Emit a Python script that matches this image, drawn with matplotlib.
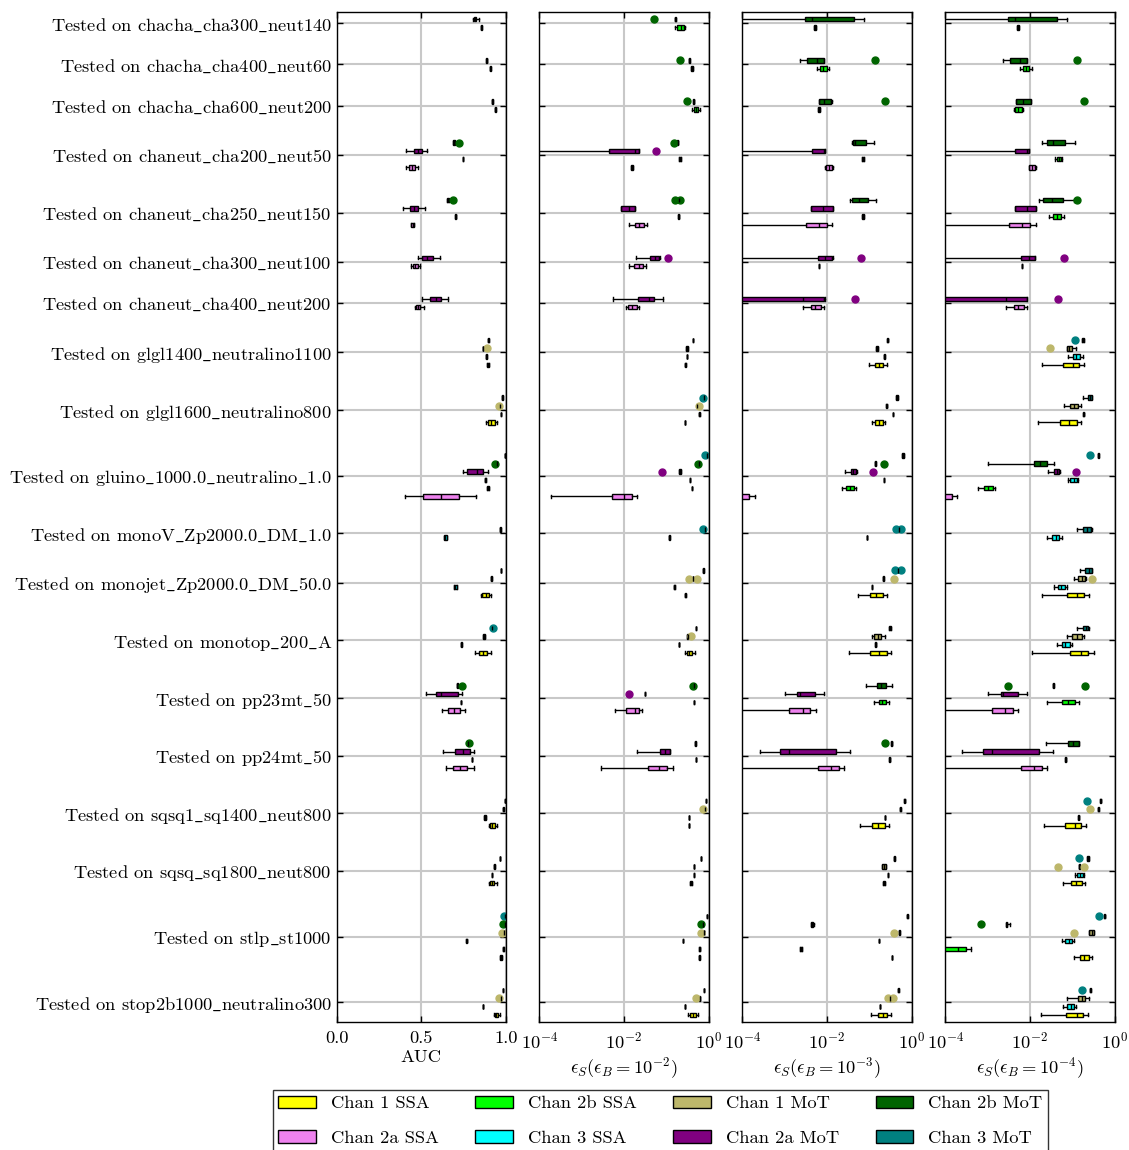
import matplotlib
matplotlib.use("Agg")
import matplotlib.pyplot as plt
from matplotlib.patches import Patch
from matplotlib.ticker import NullLocator, FixedLocator, LogFormatterMathtext

plt.rcParams['font.family'] = ['cmr10', 'DejaVu Serif']
plt.rcParams['mathtext.fontset'] = 'cm'
plt.rcParams['axes.formatter.use_mathtext'] = True
plt.rcParams['axes.unicode_minus'] = False

# ---------------- data ----------------
categories = [
    'chacha_cha300_neut140', 'chacha_cha400_neut60', 'chacha_cha600_neut200',
    'chaneut_cha200_neut50', 'chaneut_cha250_neut150', 'chaneut_cha300_neut100',
    'chaneut_cha400_neut200', 'glgl1400_neutralino1100', 'glgl1600_neutralino800',
    'gluino_1000.0_neutralino_1.0', 'monoV_Zp2000.0_DM_1.0', 'monojet_Zp2000.0_DM_50.0',
    'monotop_200_A', 'pp23mt_50', 'pp24mt_50', 'sqsq1_sq1400_neut800',
    'sqsq_sq1800_neut800', 'stlp_st1000', 'stop2b1000_neutralino300']

grp_A = ['2b MoT', '2b SSA']
grp_B = ['2b MoT', '2a MoT', '2b SSA', '2a SSA']
grp_C = ['2a MoT', '2a SSA']
grp_D = ['3 MoT', '1 MoT', '3 SSA', '1 SSA']
grp_E = ['3 MoT', '2b MoT', '2a MoT', '3 SSA', '2b SSA', '2a SSA']
grp_F = ['3 MoT', '3 SSA']
grp_G = ['3 MoT', '2b MoT', '1 MoT', '3 SSA', '2b SSA', '1 SSA']
models_per_category = [grp_A, grp_A, grp_A, grp_B, grp_B, grp_C, grp_C, grp_D, grp_D,
                       grp_E, grp_F, grp_D, grp_D, grp_B, grp_B, grp_D, grp_D, grp_G, grp_D]

legend_labels = ['Chan 1 SSA', 'Chan 2a SSA', 'Chan 2b SSA', 'Chan 3 SSA',
                 'Chan 1 MoT', 'Chan 2a MoT', 'Chan 2b MoT', 'Chan 3 MoT']
legend_colors = ['#ffff00', '#ee82ee', '#00ff00', '#00ffff',
                 '#bdb76b', '#800080', '#006400', '#008080']

# each entry: (whisker low, q1, median, q3, whisker high, [fliers])
auc = [
    (0.805, 0.81, 0.815, 0.822, 0.84, []), (0.852, 0.852, 0.854, 0.856, 0.856, []),
    (0.884, 0.884, 0.886, 0.889, 0.889, []), (0.905, 0.905, 0.907, 0.909, 0.909, []),
    (0.917, 0.917, 0.919, 0.921, 0.921, []), (0.935, 0.935, 0.937, 0.94, 0.94, []),
    (0.688, 0.688, 0.694, 0.7, 0.7, [0.722]), (0.412, 0.454, 0.477, 0.501, 0.533, []),
    (0.744, 0.744, 0.746, 0.748, 0.748, []), (0.412, 0.426, 0.442, 0.46, 0.477, []),
    (0.652, 0.652, 0.657, 0.662, 0.662, [0.686]), (0.394, 0.43, 0.454, 0.479, 0.519, []),
    (0.7, 0.7, 0.702, 0.704, 0.704, []), (0.44, 0.44, 0.448, 0.456, 0.456, []),
    (0.481, 0.505, 0.533, 0.568, 0.611, []), (0.438, 0.45, 0.465, 0.48, 0.491, []),
    (0.501, 0.548, 0.584, 0.613, 0.659, []), (0.462, 0.47, 0.48, 0.49, 0.517, []),
    (0.893, 0.893, 0.895, 0.898, 0.898, []), (0.862, 0.862, 0.864, 0.866, 0.866, [0.888]),
    (0.883, 0.883, 0.884, 0.885, 0.885, []), (0.888, 0.888, 0.893, 0.898, 0.898, []),
    (0.977, 0.977, 0.978, 0.979, 0.979, []), (0.965, 0.965, 0.966, 0.967, 0.967, [0.958]),
    (0.969, 0.969, 0.97, 0.971, 0.971, []), (0.882, 0.893, 0.913, 0.935, 0.947, []),
    (0.991, 0.991, 0.992, 0.993, 0.993, []), (0.944, 0.944, 0.946, 0.948, 0.948, [0.936]),
    (0.746, 0.769, 0.828, 0.862, 0.892, []), (0.877, 0.877, 0.878, 0.879, 0.879, []),
    (0.889, 0.889, 0.893, 0.897, 0.897, []), (0.406, 0.511, 0.615, 0.72, 0.824, []),
    (0.965, 0.965, 0.966, 0.967, 0.967, []), (0.633, 0.633, 0.641, 0.649, 0.649, []),
    (0.967, 0.967, 0.968, 0.969, 0.969, []), (0.911, 0.911, 0.913, 0.915, 0.915, []),
    (0.692, 0.692, 0.7, 0.708, 0.708, []), (0.85, 0.86, 0.88, 0.899, 0.909, []),
    (0.914, 0.914, 0.916, 0.918, 0.918, [0.922]), (0.866, 0.866, 0.872, 0.878, 0.878, []),
    (0.735, 0.735, 0.736, 0.737, 0.737, []), (0.815, 0.838, 0.862, 0.888, 0.911, []),
    (0.71, 0.71, 0.712, 0.714, 0.714, [0.74]), (0.527, 0.588, 0.617, 0.718, 0.742, []),
    (0.731, 0.731, 0.732, 0.733, 0.733, []), (0.621, 0.655, 0.69, 0.726, 0.759, []),
    (0.775, 0.775, 0.777, 0.779, 0.779, [0.783]), (0.625, 0.696, 0.748, 0.789, 0.809, []),
    (0.796, 0.796, 0.797, 0.798, 0.798, []), (0.643, 0.686, 0.73, 0.769, 0.81, []),
    (0.991, 0.991, 0.992, 0.993, 0.993, []), (0.983, 0.983, 0.984, 0.985, 0.985, []),
    (0.87, 0.87, 0.876, 0.882, 0.882, []), (0.897, 0.907, 0.917, 0.937, 0.947, []),
    (0.963, 0.963, 0.964, 0.965, 0.965, []), (0.93, 0.93, 0.931, 0.932, 0.932, []),
    (0.914, 0.914, 0.915, 0.916, 0.916, []), (0.897, 0.905, 0.919, 0.93, 0.947, []),
    (0.994, 0.994, 0.995, 0.996, 0.996, [0.988]), (0.994, 0.994, 0.995, 0.996, 0.996, [0.982]),
    (0.987, 0.987, 0.988, 0.989, 0.989, [0.978]), (0.766, 0.766, 0.767, 0.768, 0.768, []),
    (0.983, 0.983, 0.984, 0.985, 0.985, []), (0.965, 0.965, 0.97, 0.975, 0.975, []),
    (0.979, 0.979, 0.98, 0.981, 0.981, []), (0.969, 0.969, 0.97, 0.971, 0.971, [0.96]),
    (0.861, 0.861, 0.862, 0.863, 0.863, []), (0.927, 0.933, 0.94, 0.955, 0.965, []),
]

eff_1e2 = [
    (0.158, 0.158, 0.164, 0.17, 0.17, [0.0515]), (0.158, 0.183, 0.219, 0.258, 0.283, []),
    (0.345, 0.345, 0.352, 0.359, 0.359, [0.212]), (0.39, 0.39, 0.407, 0.425, 0.425, []),
    (0.435, 0.435, 0.445, 0.455, 0.455, [0.31]), (0.413, 0.445, 0.505, 0.573, 0.615, []),
    (0.18, 0.18, 0.186, 0.192, 0.192, [0.15]), (1e-7, 0.0044, 0.018, 0.022, 0.023, [0.0575]),
    (0.2, 0.2, 0.208, 0.216, 0.216, []), (0.0148, 0.0148, 0.0156, 0.0164, 0.0164, []),
    (0.195, 0.195, 0.197, 0.199, 0.199, [0.16, 0.21]), (0.0086, 0.0086, 0.0133, 0.0184, 0.0184, []),
    (0.19, 0.19, 0.197, 0.204, 0.204, []), (0.013, 0.0184, 0.0232, 0.0299, 0.0352, []),
    (0.0187, 0.0407, 0.0535, 0.0676, 0.07, [0.11]), (0.0128, 0.0174, 0.022, 0.0284, 0.0328, []),
    (0.0054, 0.0216, 0.038, 0.0498, 0.0826, []), (0.0109, 0.0123, 0.0156, 0.0198, 0.0229, []),
    (0.425, 0.425, 0.428, 0.431, 0.431, []), (0.29, 0.29, 0.304, 0.318, 0.318, []),
    (0.307, 0.307, 0.309, 0.311, 0.311, []), (0.278, 0.278, 0.283, 0.288, 0.288, []),
    (0.76, 0.76, 0.766, 0.772, 0.772, [0.724]), (0.538, 0.538, 0.542, 0.546, 0.546, [0.58]),
    (0.6, 0.6, 0.605, 0.61, 0.61, []), (0.27, 0.27, 0.272, 0.274, 0.274, []),
    (0.88, 0.88, 0.89, 0.9, 0.9, [0.81]), (0.6, 0.6, 0.605, 0.61, 0.61, [0.573]),
    (0.2, 0.2, 0.212, 0.224, 0.224, [0.081]), (0.355, 0.355, 0.357, 0.359, 0.359, []),
    (0.396, 0.396, 0.398, 0.4, 0.4, []), (0.00019, 0.0052, 0.0101, 0.0153, 0.0205, []),
    (0.79, 0.79, 0.8, 0.81, 0.81, [0.751]), (0.118, 0.118, 0.1185, 0.119, 0.119, []),
    (0.748, 0.748, 0.751, 0.754, 0.754, []), (0.425, 0.425, 0.428, 0.431, 0.431, [0.345, 0.542]),
    (0.154, 0.154, 0.155, 0.156, 0.156, []), (0.27, 0.27, 0.283, 0.296, 0.296, []),
    (0.494, 0.494, 0.496, 0.498, 0.498, []), (0.31, 0.31, 0.316, 0.322, 0.322, [0.392]),
    (0.196, 0.196, 0.197, 0.198, 0.198, []), (0.27, 0.31, 0.352, 0.407, 0.48, []),
    (0.44, 0.44, 0.445, 0.45, 0.45, [0.42]), (0.0305, 0.0305, 0.031, 0.0315, 0.0315, [0.013]),
    (0.443, 0.443, 0.445, 0.447, 0.447, []), (0.0061, 0.0113, 0.018, 0.022, 0.0269, []),
    (0.484, 0.484, 0.486, 0.488, 0.488, []), (0.0208, 0.07, 0.092, 0.1208, 0.1208, []),
    (0.503, 0.503, 0.505, 0.507, 0.507, []), (0.0028, 0.0359, 0.0664, 0.1064, 0.142, []),
    (0.866, 0.866, 0.87, 0.874, 0.874, []), (0.79, 0.79, 0.8, 0.81, 0.81, [0.75]),
    (0.343, 0.343, 0.345, 0.347, 0.347, []), (0.337, 0.337, 0.339, 0.341, 0.341, []),
    (0.647, 0.647, 0.65, 0.653, 0.653, []), (0.443, 0.443, 0.445, 0.447, 0.447, []),
    (0.443, 0.443, 0.445, 0.447, 0.447, []), (0.37, 0.37, 0.392, 0.414, 0.414, []),
    (0.93, 0.93, 0.933, 0.936, 0.936, []), (0.73, 0.73, 0.738, 0.746, 0.746, [0.662]),
    (0.76, 0.76, 0.77, 0.78, 0.78, [0.662]), (0.247, 0.247, 0.249, 0.251, 0.251, []),
    (0.6, 0.6, 0.615, 0.63, 0.63, []), (0.59, 0.59, 0.605, 0.62, 0.62, []),
    (0.762, 0.762, 0.766, 0.77, 0.77, []), (0.6, 0.6, 0.615, 0.63, 0.63, [0.505]),
    (0.27, 0.27, 0.272, 0.274, 0.274, []), (0.316, 0.364, 0.436, 0.514, 0.565, []),
]

eff_1e3 = [
    (1e-7, 0.00296, 0.00451, 0.0427, 0.0748, []), (0.0049, 0.0049, 0.0052, 0.0055, 0.0055, []),
    (0.00234, 0.00343, 0.0059, 0.0083, 0.0083, [0.134]), (0.0058, 0.007, 0.008, 0.0098, 0.011, []),
    (0.0065, 0.0065, 0.0087, 0.0124, 0.0131, [0.239]), (0.0062, 0.0062, 0.0066, 0.007, 0.007, []),
    (0.038, 0.0419, 0.0458, 0.0834, 0.129, []), (1e-7, 0.0044, 0.0083, 0.0091, 0.0091, []),
    (0.068, 0.068, 0.0708, 0.073, 0.073, []), (0.0091, 0.0096, 0.0111, 0.0128, 0.0136, []),
    (0.034, 0.039, 0.057, 0.0913, 0.1435, []), (0.00427, 0.00427, 0.0082, 0.0136, 0.0136, []),
    (0.068, 0.068, 0.0708, 0.073, 0.073, []), (1e-7, 0.00325, 0.0065, 0.0102, 0.0134, []),
    (1e-7, 0.0062, 0.009, 0.0129, 0.0135, [0.0636]), (0.0064, 0.0064, 0.0065, 0.0066, 0.0066, []),
    (1e-7, 1e-5, 0.00276, 0.0085, 0.0089, [0.0467]), (0.0027, 0.0041, 0.0052, 0.0071, 0.0087, []),
    (0.26, 0.26, 0.271, 0.282, 0.282, []), (0.142, 0.142, 0.149, 0.156, 0.156, []),
    (0.224, 0.224, 0.226, 0.228, 0.228, []), (0.0964, 0.134, 0.166, 0.21, 0.256, []),
    (0.43, 0.43, 0.45, 0.47, 0.47, []), (0.25, 0.25, 0.256, 0.262, 0.262, []),
    (0.354, 0.354, 0.356, 0.358, 0.358, []), (0.113, 0.136, 0.166, 0.21, 0.239, []),
    (0.6, 0.6, 0.624, 0.65, 0.65, []), (0.133, 0.133, 0.139, 0.145, 0.145, [0.222]),
    (0.0266, 0.0362, 0.0419, 0.0484, 0.05, [0.124]), (0.217, 0.217, 0.218, 0.219, 0.219, []),
    (0.0222, 0.0281, 0.0343, 0.0426, 0.0493, []), (1e-7, 1e-5, 7e-5, 0.000144, 0.0002, []),
    (0.485, 0.485, 0.493, 0.5, 0.5, [0.427, 0.57]), (0.0875, 0.0875, 0.088, 0.0885, 0.0885, []),
    (0.47, 0.47, 0.475, 0.48, 0.48, [0.411, 0.55]), (0.205, 0.205, 0.214, 0.223, 0.223, [0.39]),
    (0.115, 0.115, 0.1156, 0.1162, 0.1162, []), (0.055, 0.1037, 0.1435, 0.2065, 0.266, []),
    (0.295, 0.295, 0.307, 0.32, 0.32, []), (0.1135, 0.131, 0.157, 0.189, 0.23, []),
    (0.135, 0.135, 0.141, 0.147, 0.147, []), (0.0337, 0.1037, 0.169, 0.256, 0.331, []),
    (0.0834, 0.1545, 0.185, 0.247, 0.343, []), (0.00102, 0.002, 0.0023, 0.0053, 0.0087, []),
    (0.1265, 0.169, 0.199, 0.252, 0.292, []), (1e-7, 0.00126, 0.00266, 0.004, 0.0054, []),
    (0.33, 0.33, 0.337, 0.344, 0.344, [0.234]), (0.000256, 0.00079, 0.00129, 0.0163, 0.0349, []),
    (0.296, 0.296, 0.302, 0.308, 0.308, []), (1e-7, 0.0062, 0.0122, 0.0195, 0.0256, []),
    (0.665, 0.665, 0.684, 0.703, 0.703, []), (0.525, 0.525, 0.54, 0.555, 0.555, []),
    (0.238, 0.238, 0.239, 0.24, 0.24, []), (0.0603, 0.1156, 0.163, 0.23, 0.292, []),
    (0.375, 0.375, 0.39, 0.405, 0.405, []), (0.195, 0.195, 0.22, 0.243, 0.243, []),
    (0.279, 0.279, 0.281, 0.283, 0.283, []), (0.215, 0.215, 0.222, 0.229, 0.229, []),
    (0.77, 0.77, 0.79, 0.81, 0.81, []), (0.0042, 0.0042, 0.0044, 0.0046, 0.0048, []),
    (0.5, 0.5, 0.512, 0.524, 0.524, [0.376]), (0.165, 0.165, 0.166, 0.167, 0.167, []),
    (0.00232, 0.00232, 0.00243, 0.00254, 0.00254, []), (0.347, 0.347, 0.349, 0.351, 0.351, []),
    (0.47, 0.47, 0.484, 0.498, 0.498, []), (0.29, 0.29, 0.31, 0.33, 0.33, [0.27, 0.37]),
    (0.174, 0.174, 0.175, 0.176, 0.176, []), (0.107, 0.16, 0.214, 0.266, 0.331, []),
]

eff_1e4 = [
    (1e-7, 0.00296, 0.0045, 0.0427, 0.0748, []), (0.0049, 0.0049, 0.0052, 0.0055, 0.0055, []),
    (0.0023, 0.0034, 0.0059, 0.0085, 0.0085, [0.131]), (0.0058, 0.0068, 0.0082, 0.0096, 0.011, []),
    (0.00475, 0.00475, 0.007, 0.0104, 0.0104, [0.185]), (0.0041, 0.0045, 0.0053, 0.0064, 0.0068, []),
    (0.0189, 0.0252, 0.0343, 0.0671, 0.1156, []), (1e-7, 0.0044, 0.0087, 0.0093, 0.0093, []),
    (0.0384, 0.0426, 0.0475, 0.053, 0.058, []), (0.0093, 0.0096, 0.0111, 0.0129, 0.0135, []),
    (0.0163, 0.0207, 0.0337, 0.0613, 0.111, [0.126]), (0.00434, 0.00434, 0.0086, 0.0136, 0.0136, []),
    (0.0286, 0.0356, 0.0427, 0.053, 0.0624, []), (1e-7, 0.00325, 0.0066, 0.01, 0.0136, []),
    (1e-7, 0.0062, 0.0093, 0.0134, 0.0134, [0.0635]), (0.0064, 0.0064, 0.0065, 0.0066, 0.0066, []),
    (1e-7, 1e-5, 0.00276, 0.0086, 0.0086, [0.0467]), (0.0027, 0.0041, 0.0052, 0.0071, 0.0086, []),
    (0.172, 0.172, 0.179, 0.186, 0.186, [0.1135]), (0.0748, 0.0748, 0.085, 0.096, 0.124, [0.0297]),
    (0.0776, 0.102, 0.122, 0.152, 0.182, []), (0.0195, 0.059, 0.102, 0.1435, 0.185, []),
    (0.175, 0.23, 0.261, 0.296, 0.298, []), (0.0624, 0.088, 0.109, 0.1386, 0.163, []),
    (0.178, 0.178, 0.185, 0.192, 0.192, []), (0.0152, 0.0502, 0.085, 0.1265, 0.163, []),
    (0.4, 0.4, 0.41, 0.42, 0.42, [0.256]), (0.001, 0.0126, 0.0172, 0.0257, 0.0376, []),
    (0.026, 0.036, 0.0427, 0.0493, 0.05, [0.122]), (0.0776, 0.088, 0.107, 0.131, 0.133, []),
    (0.00058, 0.0008, 0.00104, 0.00131, 0.00152, []), (1e-7, 1e-5, 7e-5, 0.000146, 0.00019, []),
    (0.126, 0.175, 0.218, 0.271, 0.296, []), (0.0252, 0.0331, 0.0404, 0.0493, 0.058, []),
    (0.149, 0.2026, 0.243, 0.292, 0.295, []), (0.1073, 0.1387, 0.166, 0.203, 0.206, [0.292]),
    (0.0369, 0.045, 0.055, 0.067, 0.076, []), (0.0195, 0.0748, 0.1265, 0.189, 0.248, []),
    (0.131, 0.182, 0.206, 0.239, 0.241, []), (0.0748, 0.1, 0.1265, 0.166, 0.189, []),
    (0.0427, 0.056, 0.068, 0.0866, 0.1, []), (0.0111, 0.0866, 0.16, 0.239, 0.325, []),
    (0.0345, 0.0345, 0.0356, 0.0367, 0.0367, [0.00296, 0.199]), (0.00102, 0.00203, 0.00234, 0.0052, 0.0087, []),
    (0.0257, 0.056, 0.0805, 0.1156, 0.146, []), (1e-7, 0.00126, 0.0026, 0.0039, 0.0052, []),
    (0.0234, 0.0805, 0.1057, 0.141, 0.141, []), (0.00025, 0.00079, 0.00129, 0.0163, 0.0356, []),
    (0.067, 0.067, 0.0697, 0.072, 0.072, []), (1e-7, 0.0062, 0.0124, 0.0192, 0.0256, []),
    (0.455, 0.455, 0.467, 0.48, 0.48, [0.222]), (0.405, 0.405, 0.41, 0.415, 0.415, [0.256]),
    (0.135, 0.135, 0.141, 0.147, 0.147, []), (0.0214, 0.067, 0.1156, 0.163, 0.21, []),
    (0.225, 0.225, 0.234, 0.243, 0.243, [0.146]), (0.144, 0.144, 0.146, 0.148, 0.148, [0.0458, 0.192]),
    (0.1135, 0.1265, 0.149, 0.175, 0.188, []), (0.059, 0.091, 0.122, 0.166, 0.195, []),
    (0.565, 0.565, 0.58, 0.595, 0.595, [0.418]), (0.0027, 0.0027, 0.0028, 0.0029, 0.0033, [0.0007]),
    (0.252, 0.252, 0.29, 0.325, 0.325, [0.111]), (0.056, 0.067, 0.082, 0.1, 0.111, []),
    (1e-7, 5e-5, 0.000195, 0.0003, 0.0004, []), (0.107, 0.152, 0.189, 0.243, 0.286, []),
    (0.258, 0.258, 0.266, 0.275, 0.275, [0.169]), (0.0735, 0.1387, 0.166, 0.195, 0.248, []),
    (0.0612, 0.0748, 0.0914, 0.1074, 0.12, []), (0.0179, 0.0708, 0.1265, 0.182, 0.23, []),
]

panels = [auc, eff_1e2, eff_1e3, eff_1e4]
xlabels = ['AUC', r'$\epsilon_S(\epsilon_B=10^{-2})$', r'$\epsilon_S(\epsilon_B=10^{-3})$',
           r'$\epsilon_S(\epsilon_B=10^{-4})$']

FS = 13.3

# ---------------- layout of rows ----------------
color_of = {('Chan ' + l.split()[1] + ' ' + l.split()[2]): c for l, c in zip(legend_labels, legend_colors)}
centers = []
row_pos = []
row_model = []
c = 0.0
for i, models in enumerate(models_per_category):
    if i > 0:
        c += len(models_per_category[i - 1]) / 2 + len(models) / 2 + 3
    centers.append(c)
    n = len(models)
    for j, m in enumerate(models):
        row_pos.append(c + j - (n - 1) / 2)
        row_model.append('Chan ' + m)

W, H = 1129, 1150
fig = plt.figure(figsize=(W / 100, H / 100), dpi=100)
lefts = [336.7, 539.3, 742.3, 945.3]
axw = 169.4
top_px, bot_px = 12, 1022

for k, (data, left) in enumerate(zip(panels, lefts)):
    ax = fig.add_axes([left / W, 1 - bot_px / H, axw / W, (bot_px - top_px) / H])
    for pos, model, st in zip(row_pos, row_model, data):
        lo, q1, med, q3, hi, fl = st
        col = color_of[model]
        stats = [dict(whislo=lo, q1=q1, med=med, q3=q3, whishi=hi, fliers=fl)]
        kw = dict(positions=[pos], widths=0.55, patch_artist=True, manage_ticks=False,
                  capwidths=0.38,
                  boxprops=dict(facecolor=col, edgecolor='black', linewidth=1.0),
                  whiskerprops=dict(color='black', linewidth=1.0),
                  capprops=dict(color='black', linewidth=1.0),
                  medianprops=dict(color='black', linewidth=1.0),
                  flierprops=dict(marker='o', markerfacecolor=col, markeredgecolor=col,
                                  markersize=5.0, linestyle='none'))
        try:
            ax.bxp(stats, orientation='horizontal', **kw)
        except TypeError:
            ax.bxp(stats, vert=False, **kw)
    if k == 0:
        ax.set_xlim(0, 1)
        ax.xaxis.set_major_locator(FixedLocator([0.0, 0.5, 1.0]))
        ax.set_xticklabels(['0.0', '0.5', '1.0'])
    else:
        ax.set_xscale('log')
        ax.set_xlim(1e-4, 1)
        ax.xaxis.set_major_locator(FixedLocator([1e-4, 1e-2, 1.0]))
        ax.xaxis.set_major_formatter(LogFormatterMathtext())
        ax.xaxis.set_minor_locator(NullLocator())
    ax.set_ylim(row_pos[-1] + 0.87, row_pos[0] - 0.87)
    ax.set_yticks(centers)
    if k == 0:
        ax.set_yticklabels(['Tested on ' + s.replace('_', r'$\_$') for s in categories],
                           fontsize=FS)
    else:
        ax.set_yticklabels([])
    ax.yaxis.set_minor_locator(NullLocator())
    ax.grid(True, color='#c8c8c8', linewidth=1.5)
    ax.set_axisbelow(True)
    ax.tick_params(direction='in', top=True, right=True, length=4, width=1,
                   labelsize=FS)
    ax.tick_params(axis='x', pad=6)
    for sp in ax.spines.values():
        sp.set_linewidth(1.0)
    ax.set_xlabel(xlabels[k], fontsize=FS, labelpad=3)

handles = [Patch(facecolor=c, edgecolor='black', linewidth=1.0) for c in legend_colors]
fig.legend(handles, legend_labels, loc='upper center', bbox_to_anchor=(660.5 / W, 1 - 1090 / H),
           ncol=4, frameon=True, fancybox=False, edgecolor='black', fontsize=FS,
           handlelength=2.05, handleheight=0.7, columnspacing=1.97, handletextpad=0.8,
           labelspacing=1.0, borderaxespad=0.0, borderpad=0.3)

fig.savefig('out.png', dpi=100)
